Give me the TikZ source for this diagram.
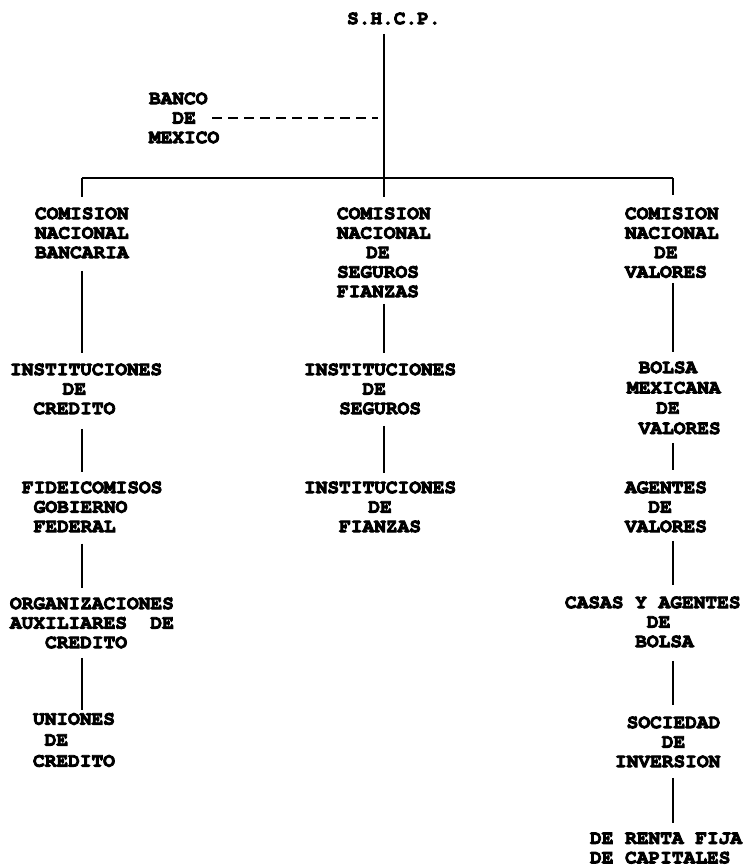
\documentclass[tikz,border=0pt]{standalone}
\usepackage{fontspec}
\newfontfamily\twf{texgyrecursor-bold.otf}[FakeBold=4.5]
\newlength\cwd
\setlength\cwd{11.7pt}
\newcommand\tw{\twf\fontsize{19.5}{19.5}\selectfont}
\newcommand\twb[1]{\twf\fontsize{19.5}{#1}\selectfont}
\newcommand\ind[1]{\hspace*{#1\cwd}}
\tikzset{
  lbl/.style={font=\tw, align=left, inner sep=0pt, outer sep=0pt, anchor=north west},
  link/.style={line width=2.2pt},
  bus/.style={line width=2.8pt},
  dline/.style={line width=2.2pt, dash pattern=on 10pt off 6pt},
}
\begin{document}
\begin{tikzpicture}[x=1pt,y=-1pt]
\useasboundingbox (0,0) rectangle (742,866);
\fill[white] (0,0) rectangle (742,866);

% nodes
\node[lbl] (shcp)   at (347,12.5)  {S.H.C.P.};
\node[lbl] (banco)  at (149,92.5)  {BANCO\\\ind{2}DE\\MEXICO};

\node[lbl] (cnb)    at (35,207.5)  {COMISION\\NACIONAL\\BANCARIA};
\node[lbl] (instc)  at (10,363.5)  {INSTITUCIONES\\\ind{4.5}DE\\\ind{2}CREDITO};
\node[lbl] (fide)   at (22,481.5)  {FIDEICOMISOS\\\ind{1}GOBIERNO\\\ind{1}FEDERAL};
\node[lbl] (org)    at (10,597.5)  {ORGANIZACIONES\\AUXILIARES\ind{2}DE\\\ind{3}CREDITO};
\node[lbl, font=\twb{21}] (uni) at (33,713) {UNIONES\\\ind{1}DE\\CREDITO};

\node[lbl] (cnsf)   at (337,207.5) {COMISION\\NACIONAL\\\ind{2.5}DE\\SEGUROS\\FIANZAS};
\node[lbl] (instseg) at (304,363.5) {INSTITUCIONES\\\ind{5}DE\\\ind{3}SEGUROS};
\node[lbl] (instfia) at (304,481.5) {INSTITUCIONES\\\ind{5.5}DE\\\ind{3}FIANZAS};

\node[lbl] (cnv)    at (625,207.5) {COMISION\\NACIONAL\\\ind{2.5}DE\\VALORES};
\node[lbl, font=\twb{20.3}] (bmv) at (627,361.5) {\ind{1}BOLSA\\MEXICANA\\\ind{2.5}DE\\\ind{1}VALORES};
\node[lbl] (agv)    at (625,481.5) {AGENTES\\\ind{2}DE\\VALORES};
\node[lbl] (casas)  at (565,596.5) {CASAS Y AGENTES\\\ind{7}DE\\\ind{6}BOLSA};
\node[lbl] (soc)    at (615,716.5) {\ind{1}SOCIEDAD\\\ind{4}DE\\INVERSION};
\node[lbl] (renta)  at (590,832.5) {DE RENTA FIJA\\DE CAPITALES};

% junctions on the bus
\coordinate (j1) at (82,178);
\coordinate (j2) at (384,178);
\coordinate (j3) at (673,178);

% trunk and bus
\draw[link, shorten <=9.5pt] (shcp.south -| j2) -- (j2);
\draw[bus] (j1) -- (j3);
\draw[dline, shorten >=6pt] ([xshift=-7pt]banco.east) -- (banco.east -| j2);

% ticks
\draw[link, shorten >=10.5pt] (j1) -- (j1 |- cnb.north);
\draw[link, shorten >=10.5pt] (j2) -- (j2 |- cnsf.north);
\draw[link, shorten >=12.5pt] (j3) -- (j3 |- cnv.north);

% left column
\draw[link, shorten <=12.5pt, shorten >=10.5pt] (cnb.south -| j1) -- (instc.north -| j1);
\draw[link, shorten <=14.5pt, shorten >=9.5pt] (instc.south -| j1) -- (fide.north -| j1);
\draw[link, shorten <=11.5pt, shorten >=9.5pt] (fide.south -| j1) -- (org.north -| j1);
\draw[link, shorten <=9.5pt, shorten >=3pt] (org.south -| j1) -- (uni.north -| j1);

% middle column
\draw[link, shorten <=6.5pt, shorten >=10.5pt] (cnsf.south -| j2) -- (instseg.north -| j2);
\draw[link, shorten <=11.5pt, shorten >=8.5pt] (instseg.south -| j2) -- (instfia.north -| j2);

% right column
\draw[link, shorten <=5pt, shorten >=9.5pt] (cnv.south -| j3) -- (bmv.north -| j3);
\draw[link, shorten <=8.6pt, shorten >=11.5pt] (bmv.south -| j3) -- (agv.north -| j3);
\draw[link, shorten <=8.5pt, shorten >=11.5pt] (agv.south -| j3) -- (casas.north -| j3);
\draw[link, shorten <=13.5pt, shorten >=11.5pt] (casas.south -| j3) -- (soc.north -| j3);
\draw[link, shorten <=10.5pt, shorten >=9.5pt] (soc.south -| j3) -- (renta.north -| j3);
\end{tikzpicture}
\end{document}
